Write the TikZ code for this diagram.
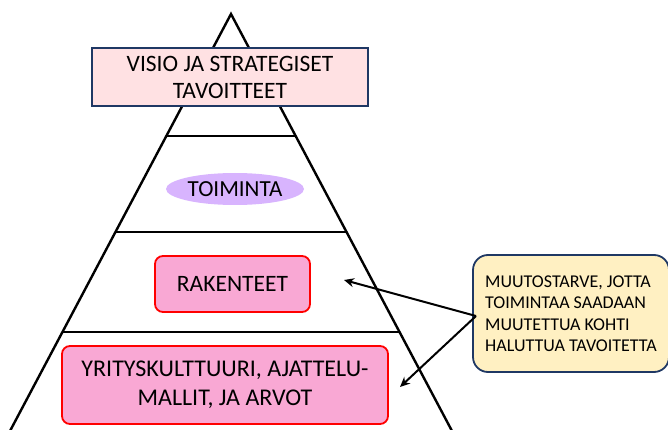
\documentclass[tikz,border=0pt]{standalone}
\usepackage{fontspec}
\setmainfont{Carlito}
\usetikzlibrary{arrows.meta,shapes.geometric}
\definecolor{navy}{HTML}{1F3864}
\definecolor{toppink}{HTML}{FFE1E3}
\definecolor{boxpink}{HTML}{F9A8D4}
\definecolor{lav}{HTML}{D8B4FE}
\definecolor{note}{HTML}{FFF0C2}
\tikzset{
  level/.style={draw=red, line width=1.8pt, fill=boxpink, rounded corners=8pt,
    align=center, inner sep=0pt, text=black},
  arr/.style={line width=2pt, -{Stealth[length=10pt,width=9pt]}},
  edge/.style={line width=2.4pt, black}
}
\begin{document}
\begin{tikzpicture}[x=1pt,y=-1pt]
\useasboundingbox (0,0) rectangle (668,430);
% pyramid outline and level dividers
\begin{scope}
\clip (0,0) rectangle (668,430);
\draw[edge] (231-0.53*436,450) -- (231,14) -- (231+0.53*436,450);
\draw[edge] (231-0.53*122,136) -- (231+0.53*122,136);
\draw[edge] (231-0.53*218,232) -- (231+0.53*218,232);
\draw[edge] (231-0.53*318,332) -- (231+0.53*318,332);
\end{scope}
% vision box
\node[draw=navy, line width=1.8pt, fill=toppink, minimum width=276pt, minimum height=58pt,
  align=center, inner sep=0pt, font=\fontsize{23.5}{27}\selectfont]
  (visio) at (230,77) {VISIO JA STRATEGISET\\TAVOITTEET};
% levels
\node[fill=lav, ellipse, minimum width=138pt, minimum height=32pt, inner sep=0pt,
  font=\fontsize{23}{26}\selectfont] (toim) at (235,189) {TOIMINTA};
\node[level, minimum width=155pt, minimum height=56pt, font=\fontsize{23.5}{27}\selectfont]
  (rak) at (232.5,284) {RAKENTEET};
\node[level, minimum width=326pt, minimum height=78pt, font=\fontsize{24}{29}\selectfont]
  (kult) at (225,385) {YRITYSKULTTUURI, AJATTELU-\\MALLIT, JA ARVOT};
% note box
\node[draw=navy, line width=1.8pt, fill=note, rounded corners=15pt, minimum width=196pt,
  minimum height=117pt, inner sep=0pt, align=left, font=\fontsize{18}{21.5}\selectfont]
  (muutos) at (571,313.5) {MUUTOSTARVE, JOTTA\\TOIMINTAA SAADAAN\\MUUTETTUA KOHTI\\HALUTTUA TAVOITETTA};
\coordinate (src) at (476,316);
\coordinate (t1) at (344,280);
\coordinate (t2) at (400,387);
\draw[arr] (src) -- (t1);
\draw[arr] (src) -- (t2);
\end{tikzpicture}
\end{document}
